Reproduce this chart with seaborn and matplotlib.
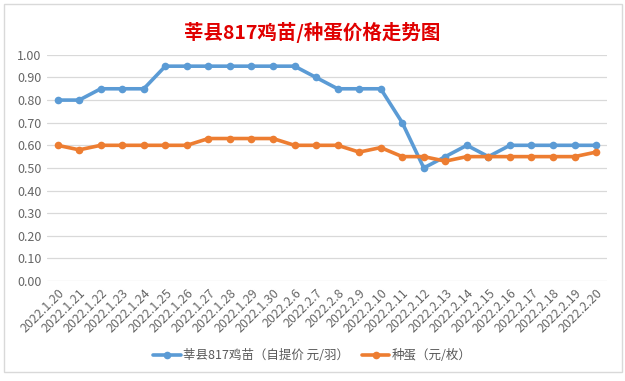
import numpy as np
import pandas as pd
import seaborn as sns
import matplotlib.pyplot as plt
from matplotlib.patches import Rectangle

# 数据
dates = ["2022.1.20", "2022.1.21", "2022.1.22", "2022.1.23", "2022.1.24", "2022.1.25",
         "2022.1.26", "2022.1.27", "2022.1.28", "2022.1.29", "2022.1.30", "2022.2.6",
         "2022.2.7", "2022.2.8", "2022.2.9", "2022.2.10", "2022.2.11", "2022.2.12",
         "2022.2.13", "2022.2.14", "2022.2.15", "2022.2.16", "2022.2.17", "2022.2.18",
         "2022.2.19", "2022.2.20"]
chick = [0.80, 0.80, 0.85, 0.85, 0.85, 0.95, 0.95, 0.95, 0.95, 0.95, 0.95, 0.95,
         0.90, 0.85, 0.85, 0.85, 0.70, 0.50, 0.55, 0.60, 0.55, 0.60, 0.60, 0.60,
         0.60, 0.60]
egg = [0.60, 0.58, 0.60, 0.60, 0.60, 0.60, 0.60, 0.63, 0.63, 0.63, 0.63, 0.60,
       0.60, 0.60, 0.57, 0.59, 0.55, 0.55, 0.53, 0.55, 0.55, 0.55, 0.55, 0.55,
       0.55, 0.57]
chick_label = "莘县817鸡苗（自提价 元/羽）"
egg_label = "种蛋（元/枚）"

sns.set_style("white")
plt.rcParams['font.family'] = ['Noto Sans CJK SC', 'DejaVu Sans']

pos = np.arange(len(dates))
fig = plt.figure(figsize=(6.25, 3.81), dpi=100)
ax = fig.add_axes([0.075, 0.2625, 0.896, 0.5935])

sns.lineplot(x=pos, y=chick, ax=ax, color="#5B9BD5", linewidth=2.6, marker="o",
             markersize=5.5, markeredgewidth=0, label=chick_label)
sns.lineplot(x=pos, y=egg, ax=ax, color="#ED7D31", linewidth=2.6, marker="o",
             markersize=5.5, markeredgewidth=0, label=egg_label)

ax.set_xlim(-0.5, len(dates) - 0.5)
ax.set_ylim(0, 1.0)
ax.set_yticks(np.arange(0, 1.01, 0.1))
ax.set_yticklabels([f"{v:.2f}" for v in np.arange(0, 1.01, 0.1)])
ax.set_xticks(pos)
ax.set_xticklabels(dates, rotation=45, ha="right", rotation_mode="anchor")
ax.tick_params(axis="both", labelsize=9, colors="#666666", length=0, pad=4)
ax.yaxis.grid(True, color="#D9D9D9", linewidth=0.9)
ax.set_axisbelow(True)
for s in ax.spines.values():
    s.set_visible(False)

ax.get_legend().remove()
handles, labels = ax.get_legend_handles_labels()
fig.legend(handles, labels, loc="center", bbox_to_anchor=(0.5, 0.066), ncol=2,
           frameon=False, fontsize=9, labelcolor="#595959", handlelength=2.2,
           columnspacing=1.0, handletextpad=0.2)

fig.text(0.5, 0.915, "莘县817鸡苗/种蛋价格走势图", ha="center", va="center",
         fontsize=14, fontweight="bold", color="#E00000")

fig.patches.append(Rectangle((4 / 625, 9 / 381), 618 / 625, 368 / 381,
                             transform=fig.transFigure, fill=False,
                             edgecolor="#D9D9D9", linewidth=1))

fig.savefig("out.png", dpi=100)
